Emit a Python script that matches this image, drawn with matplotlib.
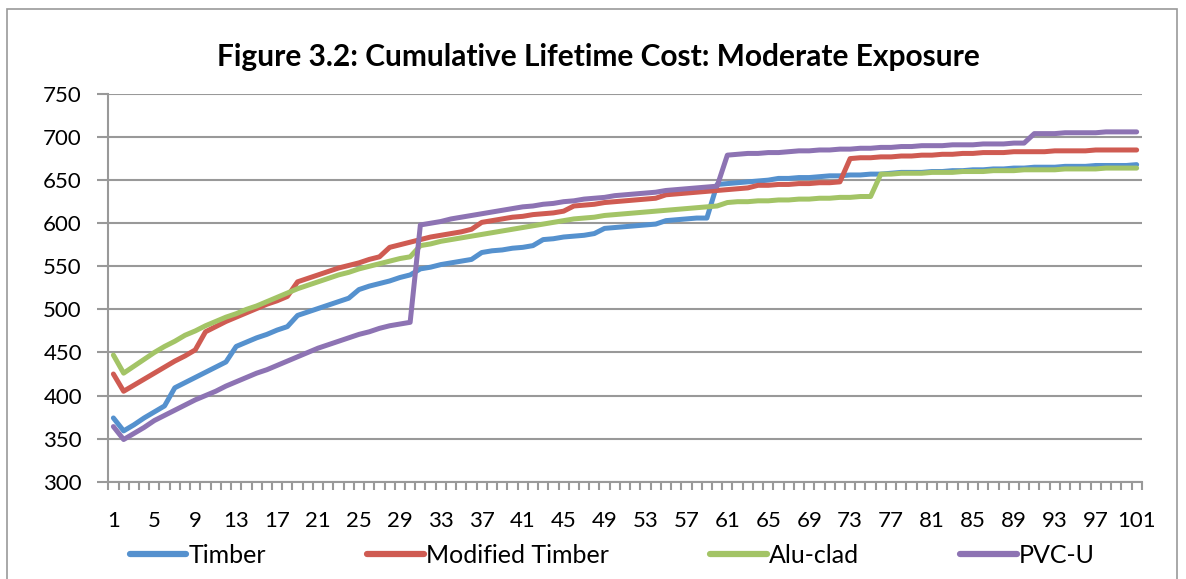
import matplotlib
matplotlib.use("Agg")
import matplotlib.pyplot as plt
from matplotlib.patches import Rectangle

plt.rcParams['font.family'] = ['Lato', 'DejaVu Sans']

# ------------------------------- Data ---------------------------------
years = list(range(1, 102))

timber = [374, 359, 366, 374, 381, 388, 409, 415, 421, 427,
          433, 439, 457, 462, 467, 471, 476, 480, 493, 497,
          501, 505, 509, 513, 523, 527, 530, 533, 537, 540,
          547, 549, 552, 554, 556, 558, 566, 568, 569, 571,
          572, 574, 581, 582, 584, 585, 586, 588, 594, 595,
          596, 597, 598, 599, 603, 604, 605, 606, 606, 645,
          646, 647, 648, 649, 650, 652, 652, 653, 653, 654,
          655, 655, 656, 656, 657, 657, 658, 659, 659, 659,
          660, 660, 661, 661, 662, 662, 663, 663, 664, 664,
          665, 665, 665, 666, 666, 666, 667, 667, 667, 667,
          668]

modified_timber = [425, 405, 412, 419, 426, 433, 440, 446, 453, 474,
                   480, 486, 491, 496, 501, 506, 510, 515, 532, 536,
                   540, 544, 548, 551, 554, 558, 561, 572, 575, 578,
                   581, 584, 586, 588, 590, 593, 601, 603, 605, 607,
                   608, 610, 611, 612, 614, 620, 621, 622, 624, 625,
                   626, 627, 628, 629, 633, 634, 635, 636, 637, 638,
                   639, 640, 641, 644, 644, 645, 645, 646, 646, 647,
                   647, 648, 675, 676, 676, 677, 677, 678, 678, 679,
                   679, 680, 680, 681, 681, 682, 682, 682, 683, 683,
                   683, 683, 684, 684, 684, 684, 685, 685, 685, 685,
                   685]

alu_clad = [447, 426, 434, 442, 450, 457, 463, 470, 475, 481,
            486, 491, 495, 500, 504, 509, 514, 519, 524, 528,
            532, 536, 540, 543, 547, 550, 553, 556, 559, 561,
            574, 576, 579, 581, 583, 585, 587, 589, 591, 593,
            595, 597, 599, 601, 603, 605, 606, 607, 609, 610,
            611, 612, 613, 614, 615, 616, 617, 618, 619, 620,
            624, 625, 625, 626, 626, 627, 627, 628, 628, 629,
            629, 630, 630, 631, 631, 657, 657, 658, 658, 658,
            659, 659, 659, 660, 660, 660, 661, 661, 661, 662,
            662, 662, 662, 663, 663, 663, 663, 664, 664, 664,
            664]

pvc_u = [364, 349, 356, 363, 371, 377, 383, 389, 395, 400,
         405, 411, 416, 421, 426, 430, 435, 440, 445, 450,
         455, 459, 463, 467, 471, 474, 478, 481, 483, 485,
         598, 600, 602, 605, 607, 609, 611, 613, 615, 617,
         619, 620, 622, 623, 625, 626, 628, 629, 630, 632,
         633, 634, 635, 636, 638, 639, 640, 641, 642, 643,
         679, 680, 681, 681, 682, 682, 683, 684, 684, 685,
         685, 686, 686, 687, 687, 688, 688, 689, 689, 690,
         690, 690, 691, 691, 691, 692, 692, 692, 693, 693,
         704, 704, 704, 705, 705, 705, 705, 706, 706, 706,
         706]

series = [("Timber", timber, '#5591CE'),
          ("Modified Timber", modified_timber, '#CF5B52'),
          ("Alu-clad", alu_clad, '#A3C466'),
          ("PVC-U", pvc_u, '#8D73B3')]

y_ticks = list(range(300, 751, 50))
x_tick_labels = list(range(1, 102, 4))

# ------------------------------- Plot ---------------------------------
fig = plt.figure(figsize=(11.86, 5.79), dpi=100)
ax = fig.add_axes([0.0913, 0.168, 0.8714, 0.6697])

grid_col = '#999999'
for name, vals, col in series:
    ax.plot(years, vals, color=col, linewidth=3.6, label=name,
            solid_joinstyle='round', solid_capstyle='round')

ax.set_xlim(0.5, 101.5)
ax.set_ylim(300, 750)
ax.set_yticks(y_ticks)
ax.yaxis.grid(True, color=grid_col, linewidth=1.5)
ax.set_axisbelow(True)

ax.set_xticks(x_tick_labels)
ax.set_xticks([i + 0.5 for i in range(0, 102)], minor=True)
ax.tick_params(axis='x', which='major', length=0, labelsize=16, pad=21)
ax.tick_params(axis='x', which='minor', length=6, width=1.5, color=grid_col)
ax.tick_params(axis='y', length=8, width=1.5, color=grid_col, labelsize=16, pad=11)

for side in ['top', 'right']:
    ax.spines[side].set_visible(False)
for side in ['left', 'bottom']:
    ax.spines[side].set_color(grid_col)
    ax.spines[side].set_linewidth(1.5)

fig.text(0.505, 1 - 57 / 579, "Figure 3.2: Cumulative Lifetime Cost: Moderate Exposure",
         ha='center', va='center', fontsize=21.5, fontweight='bold')

leg = ax.legend(loc='center', bbox_to_anchor=(0.488, -0.19), ncol=4, frameon=False,
                fontsize=18, handlelength=2.25, handletextpad=0.1, columnspacing=4.05)
for line in leg.get_lines():
    line.set_linewidth(4.5)

# chart border
fig.patches.append(Rectangle((7 / 1186, -0.05), 1170 / 1186, 1 - 9 / 579 + 0.05,
                             transform=fig.transFigure, fill=False,
                             edgecolor='#999999', linewidth=1.2))

fig.savefig("out.png", dpi=100)
